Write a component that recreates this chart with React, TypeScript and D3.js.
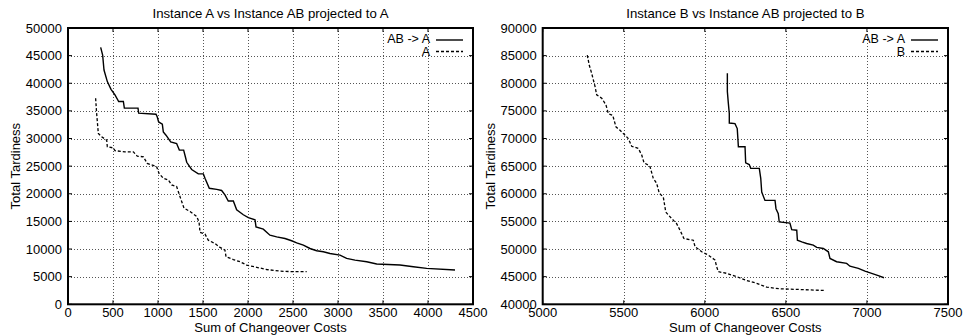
import React from "react";
import * as d3 from "d3";

// ---- Data ----
const leftTitle = "Instance A vs Instance AB projected to A";
const rightTitle = "Instance B vs Instance AB projected to B";
const xAxisTitle = "Sum of Changeover Costs";
const yAxisTitle = "Total Tardiness";

const leftXTicks = [0, 500, 1000, 1500, 2000, 2500, 3000, 3500, 4000, 4500];
const leftYTicks = [0, 5000, 10000, 15000, 20000, 25000, 30000, 35000, 40000, 45000, 50000];
const rightXTicks = [5000, 5500, 6000, 6500, 7000, 7500];
const rightYTicks = [40000, 45000, 50000, 55000, 60000, 65000, 70000, 75000, 80000, 85000, 90000];

const leftLegend = ["AB -> A", "A"];
const rightLegend = ["AB -> A", "B"];

// Instance AB projected to A
const seriesABtoA: [number, number][] = [
  [363, 46500], [385, 45100], [400, 42400], [437, 40300], [478, 38900], [522, 37900],
  [563, 36700], [615, 36700], [626, 35500], [778, 35500], [785, 34600], [978, 34400],
  [992, 33900], [1007, 33000], [1048, 32600], [1059, 31200], [1089, 30600], [1141, 29400],
  [1207, 29100], [1237, 27900], [1285, 27900], [1304, 26700], [1319, 25700], [1374, 24400],
  [1448, 23600], [1504, 23600], [1522, 22800], [1570, 21000], [1652, 20800], [1707, 20600],
  [1744, 19800], [1781, 18700], [1837, 18700], [1874, 17100], [1948, 16200], [2004, 15700],
  [2078, 15300], [2089, 14000], [2170, 13600], [2244, 12500], [2319, 12200], [2411, 11900],
  [2485, 11500], [2541, 11100], [2615, 10700], [2689, 10100], [2763, 9700], [2837, 9500],
  [2911, 9200], [3022, 8900], [3096, 8300], [3189, 8000], [3319, 7700], [3430, 7300],
  [3689, 7100], [3837, 6800], [3985, 6500], [4300, 6200],
];

// Instance A
const seriesA: [number, number][] = [
  [307, 37300], [318, 34600], [337, 30900], [374, 30300], [430, 29700], [437, 28500],
  [503, 28300], [522, 27800], [633, 27600], [726, 27600], [770, 26800], [837, 26700],
  [880, 25500], [985, 24900], [1011, 23700], [1059, 22800], [1115, 22500], [1152, 21600],
  [1207, 21300], [1244, 19500], [1289, 17400], [1356, 16800], [1430, 15900], [1456, 14900],
  [1467, 13000], [1522, 12700], [1559, 11600], [1633, 11000], [1689, 10300], [1744, 9800],
  [1756, 8600], [1837, 8100], [1911, 7700], [1985, 7100], [2096, 6700], [2207, 6300],
  [2356, 6000], [2504, 5900], [2652, 5900],
];

// Instance AB projected to B
const seriesABtoB: [number, number][] = [
  [6139, 81800], [6139, 78500], [6145, 76400], [6151, 74500], [6151, 72800], [6186, 72700],
  [6200, 71800], [6207, 68500], [6248, 68500], [6252, 65600], [6274, 65300], [6283, 64600],
  [6336, 64600], [6345, 62800], [6351, 60300], [6371, 58800], [6433, 58800], [6439, 57300],
  [6453, 56400], [6459, 54900], [6525, 54700], [6536, 53500], [6567, 53400], [6571, 51600],
  [6598, 51300], [6628, 51000], [6669, 50700], [6690, 50300], [6731, 50100], [6762, 49500],
  [6772, 48300], [6813, 47700], [6875, 47400], [6895, 46900], [6947, 46500], [6988, 46000],
  [7029, 45600], [7070, 45200], [7105, 44800],
];

// Instance B
const seriesB: [number, number][] = [
  [5275, 85100], [5287, 83300], [5302, 81800], [5323, 79400], [5333, 77900], [5364, 77300],
  [5390, 76100], [5405, 74500], [5432, 74200], [5452, 72100], [5477, 71500], [5508, 70600],
  [5528, 70000], [5549, 68600], [5590, 68200], [5611, 67000], [5625, 65600], [5651, 65200],
  [5662, 64900], [5682, 62800], [5703, 61900], [5719, 60100], [5744, 59400], [5759, 56700],
  [5796, 55500], [5826, 54600], [5847, 53400], [5871, 51900], [5929, 51600], [5940, 50400],
  [5981, 49500], [6022, 48900], [6063, 48000], [6073, 46800], [6083, 45900], [6135, 45600],
  [6197, 45000], [6258, 44300], [6320, 43800], [6382, 43100], [6464, 42800], [6567, 42700],
  [6741, 42500],
];

const FONT = "'Liberation Sans', Arial, Helvetica, sans-serif";

type PanelProps = {
  left: number;
  right: number;
  top: number;
  bottom: number;
  xDomain: [number, number];
  yDomain: [number, number];
  xTicks: number[];
  yTicks: number[];
  title: string;
  legend: string[];
  solid: [number, number][];
  dashed: [number, number][];
};

function Panel(p: PanelProps) {
  const x = d3.scaleLinear().domain(p.xDomain).range([p.left, p.right]);
  const y = d3.scaleLinear().domain(p.yDomain).range([p.bottom, p.top]);
  const line = d3
    .line<[number, number]>()
    .x((d) => x(d[0]))
    .y((d) => y(d[1]));
  const cx = (p.left + p.right) / 2;
  const cy = (p.top + p.bottom) / 2;
  const tickLen = 4;
  const fs = 13;
  const snap = (v: number) => Math.round(v) + 0.5;
  return (
    <g fontFamily={FONT} fill="#000">
      {/* grid */}
      {p.xTicks.map((t, i) =>
        i > 0 && i < p.xTicks.length - 1 ? (
          <line key={"gx" + t} x1={snap(x(t))} x2={snap(x(t))} y1={p.top} y2={p.bottom}
            stroke="#555" strokeWidth={1} strokeDasharray="1,2" shapeRendering="crispEdges" />
        ) : null
      )}
      {p.yTicks.map((t, i) =>
        i > 0 && i < p.yTicks.length - 1 ? (
          <line key={"gy" + t} x1={p.left} x2={p.right} y1={snap(y(t))} y2={snap(y(t))}
            stroke="#555" strokeWidth={1} strokeDasharray="1,2" shapeRendering="crispEdges" />
        ) : null
      )}
      {/* ticks */}
      {p.xTicks.map((t) => (
        <g key={"tx" + t}>
          <line x1={x(t)} x2={x(t)} y1={p.bottom} y2={p.bottom - tickLen} stroke="#000" />
          <line x1={x(t)} x2={x(t)} y1={p.top} y2={p.top + tickLen} stroke="#000" />
          <text x={x(t)} y={p.bottom + 12.2} fontSize={fs} textAnchor="middle">{t}</text>
        </g>
      ))}
      {p.yTicks.map((t) => (
        <g key={"ty" + t}>
          <line x1={p.left} x2={p.left + tickLen} y1={y(t)} y2={y(t)} stroke="#000" />
          <line x1={p.right} x2={p.right - tickLen} y1={y(t)} y2={y(t)} stroke="#000" />
          <text x={p.left - 6} y={y(t) + 4.5} fontSize={fs} textAnchor="end">{t}</text>
        </g>
      ))}
      {/* series */}
      <path d={line(p.solid) || ""} fill="none" stroke="#000" strokeWidth={1.4} />
      <path d={line(p.dashed) || ""} fill="none" stroke="#000" strokeWidth={1.3} strokeDasharray="3,2" />
      {/* frame */}
      <rect x={p.left} y={p.top} width={p.right - p.left} height={p.bottom - p.top}
        fill="none" stroke="#000" strokeWidth={2} />
      {/* legend */}
      <text x={p.right - 43} y={p.top + 14.5} fontSize={12.5} textAnchor="end">{p.legend[0]}</text>
      <line x1={p.right - 37} x2={p.right - 10} y1={p.top + 12} y2={p.top + 12} stroke="#000" strokeWidth={1.4} />
      <text x={p.right - 43} y={p.top + 27.5} fontSize={12.5} textAnchor="end">{p.legend[1]}</text>
      <line x1={p.right - 37} x2={p.right - 10} y1={p.top + 23.5} y2={p.top + 23.5} stroke="#000" strokeWidth={1.3} strokeDasharray="3,2" />
      {/* titles */}
      <text x={cx} y={18} fontSize={13.2} textAnchor="middle">{p.title}</text>
      <text x={cx} y={331.5} fontSize={fs} textAnchor="middle">{xAxisTitle}</text>
      <text transform={`translate(${p.left - 48},${cy}) rotate(-90)`} fontSize={fs} textAnchor="middle">
        {yAxisTitle}
      </text>
    </g>
  );
}

export default function App() {
  return (
    <svg width={964} height={335} style={{ position: "absolute", left: 0, top: 0, background: "#fff" }}>
      <rect width={964} height={335} fill="#fff" />
      <Panel left={68} right={473} top={28} bottom={304.3} xDomain={[0, 4500]} yDomain={[0, 50000]}
        xTicks={leftXTicks} yTicks={leftYTicks} title={leftTitle} legend={leftLegend}
        solid={seriesABtoA} dashed={seriesA} />
      <Panel left={542.7} right={948} top={28} bottom={304.3} xDomain={[5000, 7500]} yDomain={[40000, 90000]}
        xTicks={rightXTicks} yTicks={rightYTicks} title={rightTitle} legend={rightLegend}
        solid={seriesABtoB} dashed={seriesB} />
    </svg>
  );
}
